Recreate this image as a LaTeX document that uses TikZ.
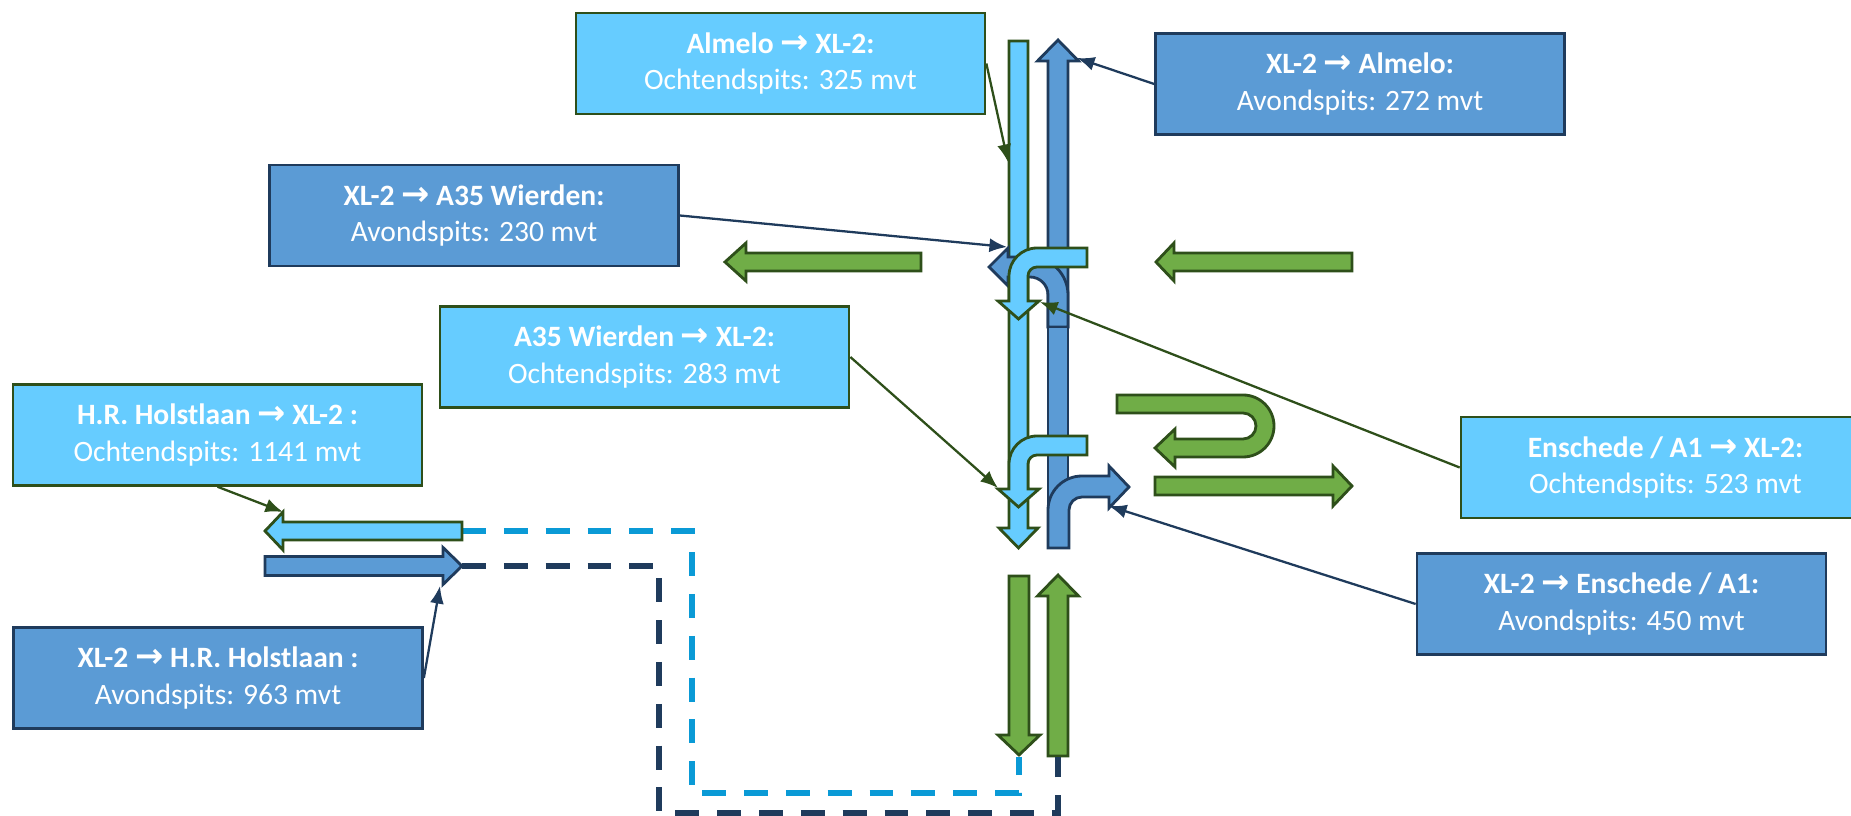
\documentclass[tikz,border=0pt]{standalone}
\usepackage{fontspec}
\setmainfont{Carlito}
\newfontfamily\arrowfont{DejaVu Sans}
\usetikzlibrary{arrows.meta}

\definecolor{skyfill}{HTML}{66CCFF}
\definecolor{steelfill}{HTML}{5B9BD5}
\definecolor{grassfill}{HTML}{70AD47}
\definecolor{leafdark}{HTML}{2E4F1A}
\definecolor{navyline}{HTML}{1F3B5C}
\definecolor{dashsky}{HTML}{0A9AD6}

% horizontal block arrow: style, tail x, tip x, y, shaft half, head half, head base x
\newcommand{\hblock}[7]{%
  \path[#1] (#2,{#4-#5}) -- (#7,{#4-#5}) -- (#7,{#4-#6}) -- (#3,#4)
    -- (#7,{#4+#6}) -- (#7,{#4+#5}) -- (#2,{#4+#5}) -- cycle;}
% vertical block arrow: style, x, tail y, tip y, shaft half, head half, head base y
\newcommand{\vblock}[7]{%
  \path[#1] ({#2-#5},#3) -- ({#2-#5},#7) -- ({#2-#6},#7) -- (#2,#4)
    -- ({#2+#6},#7) -- ({#2+#5},#7) -- ({#2+#5},#3) -- cycle;}
\newcommand{\rarr}{{\arrowfont\fontsize{9.6}{10.3}\selectfont →}}

\begin{document}
\begin{tikzpicture}[x=0.01cm, y=-0.01cm,
  boxbase/.style={line width=0.7pt, minimum width=4.09cm, minimum height=1.01cm,
    inner sep=0pt, text=white, align=center,
    font=\fontsize{8.4}{10.3}\selectfont},
  lightbox/.style={boxbase, draw=leafdark, fill=skyfill},
  darkbox/.style={boxbase, draw=navyline, fill=steelfill},
  grassarrow/.style={fill=grassfill, draw=leafdark, line width=0.8pt, line join=miter},
  skyarrow/.style={fill=skyfill, draw=leafdark, line width=0.8pt, line join=miter},
  steelarrow/.style={fill=steelfill, draw=navyline, line width=0.8pt, line join=miter},
  greenlink/.style={draw=leafdark, line width=0.65pt, -{Latex[length=5pt,width=4pt]}},
  navylink/.style={draw=navyline, line width=0.65pt, -{Latex[length=5pt,width=4pt]}},
  skydash/.style={draw=dashsky, line width=1.7pt, dash pattern=on 6.8pt off 5.1pt},
  navydash/.style={draw=navyline, line width=1.7pt, dash pattern=on 6.8pt off 5.1pt},
]
\useasboundingbox (0,0) rectangle (1851,816);
\clip (0,0) rectangle (1851,816);

% ---- labelled boxes ----
\node[lightbox] (almIn)  at (780.5,63.5) {\textbf{Almelo \rarr{} XL-2:}\\Ochtendspits: 325 mvt};
\node[darkbox]  (almOut) at (1360,84)    {\textbf{XL-2 \rarr{} Almelo:}\\Avondspits: 272 mvt};
\node[darkbox]  (a35Out) at (474,215.5)  {\textbf{XL-2 \rarr{} A35 Wierden:}\\Avondspits: 230 mvt};
\node[lightbox] (a35In)  at (644.5,357)  {\textbf{A35 Wierden \rarr{} XL-2:}\\Ochtendspits: 283 mvt};
\node[lightbox] (hrIn)   at (217.5,435)  {\textbf{H.R. Holstlaan \rarr{} XL-2 :}\\Ochtendspits: 1141 mvt};
\node[darkbox]  (hrOut)  at (218,678)    {\textbf{XL-2 \rarr{} H.R. Holstlaan :}\\Avondspits: 963 mvt};
\node[lightbox] (ensIn)  at (1665.5,467.5) {\textbf{Enschede / A1 \rarr{} XL-2:}\\Ochtendspits: 523 mvt};
\node[darkbox]  (ensOut) at (1621.5,604) {\textbf{XL-2 \rarr{} Enschede / A1:}\\Avondspits: 450 mvt};

% ---- through traffic (green) ----
\hblock{grassarrow}{921}{725}{262}{9}{19}{746}
\hblock{grassarrow}{1352}{1156}{262}{9}{19}{1174}
\path[grassarrow] (1117,395) -- (1243,395) arc(-90:90:31) -- (1175,457) -- (1175,467)
  -- (1155,448) -- (1175,429) -- (1175,439) -- (1243,439) arc(90:-90:13) -- (1117,413) -- cycle;
\hblock{grassarrow}{1155}{1352}{486}{9}{20}{1333}
\vblock{grassarrow}{1019}{576}{755}{10}{21}{735}
\vblock{grassarrow}{1058}{756}{575}{10}{20.5}{596}

% ---- routes to and from H.R. Holstlaan ----
\coordinate (hrTail) at (462,531);
\coordinate (hrHead) at (462,566);
\coordinate (southIn) at (1019,757);
\coordinate (southOut) at (1058,757);
\draw[skydash] (hrTail) -- (692,531) -- (692,793) -- (1019,793) -- (southIn);
\draw[navydash] (hrHead) -- (659,566) -- (659,813) -- (1058,813) -- (southOut);

% ---- light blue: morning peak ----
\vblock{skyarrow}{1018.5}{41}{548}{9.5}{19.5}{528}

% ---- dark blue: evening peak ----
\vblock{steelarrow}{1058}{327}{40}{10}{20.5}{61}
\path[steelarrow] (1048,327) -- (1068,327) -- (1068,295) arc(0:-90:38) -- (1008,257) -- (1008,248)
  -- (989,267) -- (1008,286) -- (1008,277) -- (1030,277) arc(-90:0:18) -- cycle;
\path[steelarrow] (1048,327) rectangle (1068,548);
\path[steelarrow] (1048,548) -- (1048,510) arc(180:270:34) -- (1109,476) -- (1109,466)
  -- (1129,487) -- (1109,508) -- (1109,497) -- (1082,497) arc(270:180:13) -- (1069,548) -- cycle;

% ---- light blue turning movements ----
\path[skyarrow] (1087,248) -- (1037,248) arc(270:180:28) -- (1009,301) -- (998,301)
  -- (1018.5,319) -- (1039,301) -- (1028,301) -- (1028,276) arc(180:270:9) -- (1087,267) -- cycle;
\path[skyarrow] (1087,436) -- (1037,436) arc(270:180:28) -- (1009,489) -- (998,489)
  -- (1018.5,507) -- (1039,489) -- (1028,489) -- (1028,464) arc(180:270:9) -- (1087,455) -- cycle;

\hblock{skyarrow}{462}{265}{531}{9}{19}{283}
\hblock{steelarrow}{265}{462}{566}{9.5}{18.5}{443}

% ---- callout connectors ----
\coordinate (tAlmIn)  at (1008,162);
\coordinate (tAlmOut) at (1077,58);
\coordinate (tA35Out) at (1007,247);
\coordinate (tA35In)  at (998,488);
\coordinate (tEnsIn)  at (1040,302);
\coordinate (tEnsOut) at (1109,506);
\coordinate (tHrIn)   at (283,512);
\coordinate (tHrOut)  at (440,586);

\draw[greenlink] (almIn.east) -- (tAlmIn);
\draw[navylink]  (almOut.west) -- (tAlmOut);
\draw[navylink]  (a35Out.east) -- (tA35Out);
\draw[greenlink] (a35In.east) -- (tA35In);
\draw[greenlink] (ensIn.west) -- (tEnsIn);
\draw[navylink]  (ensOut.west) -- (tEnsOut);
\draw[greenlink] (hrIn.south) -- (tHrIn);
\draw[navylink]  (hrOut.east) -- (tHrOut);
\end{tikzpicture}
\end{document}
